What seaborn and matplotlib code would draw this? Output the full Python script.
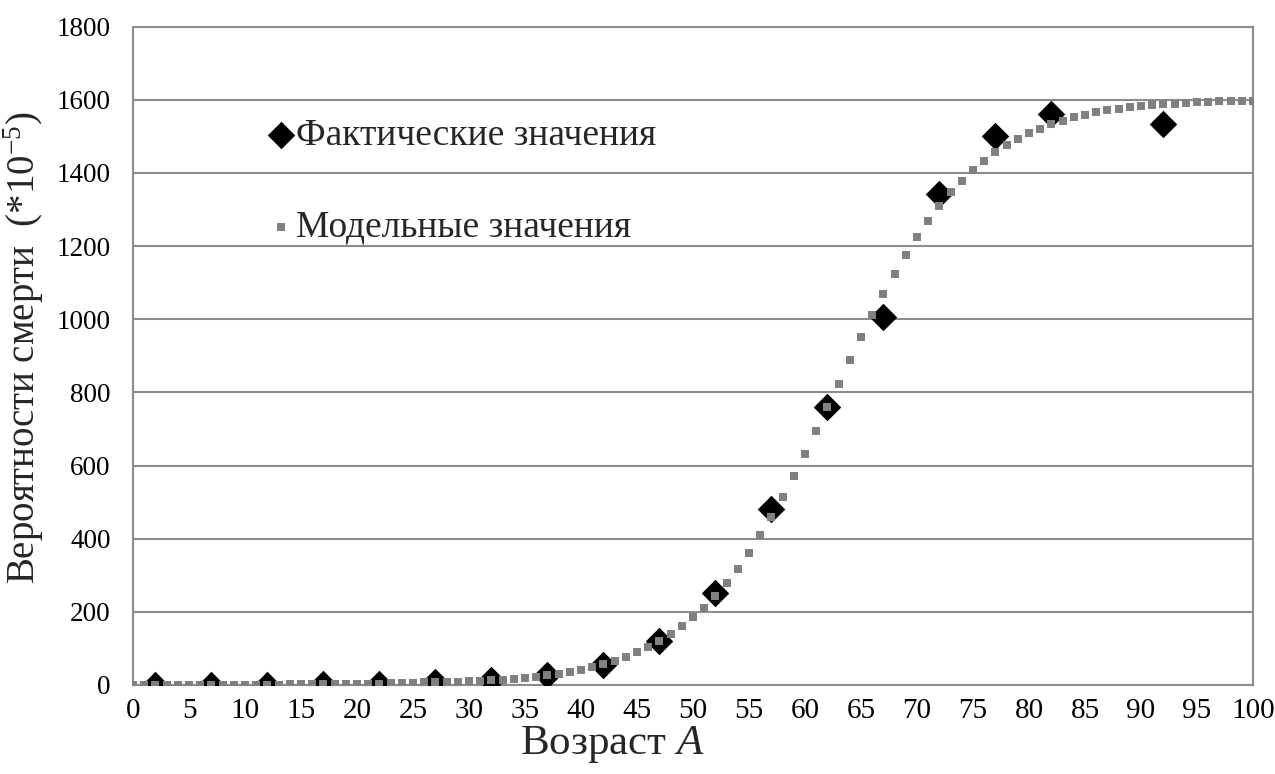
import numpy as np
import pandas as pd
import matplotlib
matplotlib.use("Agg")
import matplotlib.pyplot as plt
import seaborn as sns

# Actual (observed) values
fact_age = [2, 7, 12, 17, 22, 27, 32, 37, 42, 47, 52, 57, 62, 67, 72, 77, 82, 92]
fact_val = [0, 0, 1, 2, 4, 8, 14, 27, 55, 121, 251, 480, 759, 1007, 1342, 1501, 1561, 1534]

# Model values at each integer age 0..100
model_age = list(range(0, 101))
model_val = [0, 0, 0, 0, 0, 0, 1, 1, 1, 1,
             1, 1, 1, 1, 2, 2, 2, 2, 3, 3,
             3, 4, 4, 5, 5, 6, 7, 7, 8, 9,
             10, 11, 13, 15, 17, 19, 22, 26, 31, 36,
             42, 49, 57, 66, 76, 89, 104, 120, 140, 161,
             185, 211, 243, 280, 317, 362, 410, 459, 513, 571,
             631, 694, 759, 823, 888, 951, 1011, 1070, 1125, 1177,
             1225, 1270, 1311, 1347, 1379, 1408, 1434, 1457, 1477, 1494,
             1509, 1521, 1533, 1543, 1552, 1559, 1566, 1572, 1576, 1581,
             1583, 1586, 1588, 1590, 1592, 1594, 1595, 1596, 1597, 1598,
             1598]

x_ticks = list(range(0, 101, 5))
y_ticks = list(range(0, 1801, 200))

label_fact = "Фактические значения"
label_model = "Модельные значения"

sns.set_theme(style="white")
plt.rcParams['font.family'] = ['Liberation Serif', 'DejaVu Serif']
plt.rcParams['mathtext.fontset'] = 'custom'
plt.rcParams['mathtext.rm'] = 'Liberation Serif'
plt.rcParams['mathtext.it'] = 'Liberation Serif:italic'

fig = plt.figure(figsize=(12.75, 7.74), dpi=100)
ax = fig.add_axes([133 / 1275, (774 - 685) / 774, 1120 / 1275, (685 - 26.7) / 774])

df_fact = pd.DataFrame({"age": fact_age, "val": fact_val})
df_model = pd.DataFrame({"age": model_age, "val": model_val})

sns.scatterplot(data=df_fact, x="age", y="val", marker="D", s=14 ** 2,
                color="black", edgecolor="black", linewidth=0, ax=ax,
                label=label_fact, zorder=3)
sns.scatterplot(data=df_model, x="age", y="val", marker="s", s=5.2 ** 2,
                color="#808080", edgecolor="#808080", linewidth=0, ax=ax,
                label=label_model, zorder=4)

ax.set_xlim(0, 100)
ax.set_ylim(0, 1800)
ax.set_xticks(x_ticks)
ax.set_yticks(y_ticks)
ax.tick_params(axis='both', length=0, colors='black')
ax.tick_params(axis='x', labelsize=21, pad=9)
ax.tick_params(axis='y', labelsize=19.5, pad=16)
ax.yaxis.grid(True, color='#8c8c8c', linewidth=1.5)
ax.xaxis.grid(False)
ax.set_axisbelow(True)
for side in ['left', 'right', 'bottom', 'top']:
    ax.spines[side].set_visible(True)
    ax.spines[side].set_color('#8c8c8c')
    ax.spines[side].set_linewidth(1.5)

ax.set_xlabel("Возраст $\\mathit{A}$", fontsize=31)
ax.set_ylabel("Вероятности смерти  (*10$^{-5}$)", fontsize=28)
ax.xaxis.set_label_coords(0.428, -0.06)
ax.yaxis.set_label_coords(-0.078, 0.513)

leg = ax.legend(loc='upper left', bbox_to_anchor=(0.119, 0.861), frameon=False,
                fontsize=27, labelspacing=1.54, handletextpad=0.0,
                handlelength=0.8, borderaxespad=0, borderpad=0)

fig.savefig("out.png", dpi=100)
